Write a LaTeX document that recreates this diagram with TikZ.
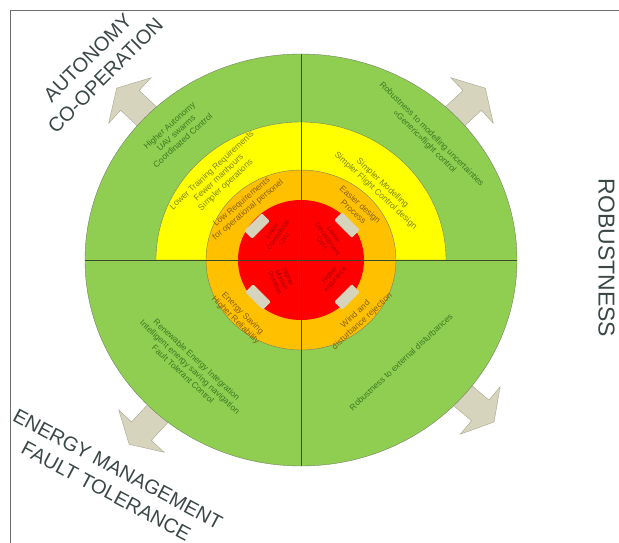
\documentclass[tikz,border=0pt]{standalone}
\usepackage{fontspec}
\setmainfont{Liberation Sans}
\definecolor{ringgreen}{HTML}{8FCE50}
\definecolor{ringyellow}{HTML}{FFFF00}
\definecolor{ringorange}{HTML}{FFC000}
\definecolor{ringred}{HTML}{FF0000}
\definecolor{beige}{HTML}{D6D4BC}
\definecolor{beigeedge}{HTML}{A8A690}
\definecolor{txtgreen}{HTML}{3B7A22}
\definecolor{txtyellow}{HTML}{7E8412}
\definecolor{txtorange}{HTML}{86620A}
\definecolor{txtred}{HTML}{A00000}
\definecolor{bigtxt}{HTML}{3C4848}
\definecolor{divline}{HTML}{3A4A2A}
\definecolor{framegray}{HTML}{6B6B6B}
\tikzset{
  lbl/.style={align=center,inner sep=0pt,font=\fontsize{8.5}{10}\selectfont},
  glbl/.style={lbl,text=txtgreen},
  ylbl/.style={lbl,text=txtyellow},
  olbl/.style={lbl,text=txtorange},
  rlbl/.style={align=center,inner sep=0pt,text=txtred,font=\fontsize{6.5}{7.3}\selectfont},
  biglbl/.style={align=center,inner sep=0pt,text=bigtxt,font=\fontsize{20}{25}\selectfont},
  arrowshape/.style={fill=beige,draw=beigeedge,line width=0.4pt},
  tab/.style={fill=beige,rounded corners=1.2pt},
}
\begin{document}
\begin{tikzpicture}[x=1pt,y=1pt]
\useasboundingbox (-301,-282) rectangle (318,260);
\clip (-301,-282) rectangle (318,260);
\fill[white] (-301,-282) rectangle (318,260);
% frame
\draw[framegray,line width=1.2pt] (-290.5,-290) -- (-290.5,249.5) -- (330,249.5);
% arrows behind the disc
\foreach \a in {137,43,227,-40}{
  \begin{scope}[rotate=\a]
    \draw[arrowshape] (170,-13.5) -- (234,-13.5) -- (234,-31) -- (252,0)
      -- (234,31) -- (234,13.5) -- (170,13.5) -- cycle;
  \end{scope}
}
% rings
\fill[ringgreen] (0,0) ellipse [x radius=216, y radius=206];
\draw[divline!70,line width=0.4pt] (0,0) ellipse [x radius=216, y radius=206];
\filldraw[fill=ringyellow,draw=divline!70,line width=0.4pt]
  (-145,0) arc[start angle=180,end angle=0,x radius=145,y radius=138] -- cycle;
\filldraw[fill=ringorange,draw=divline!70,line width=0.4pt] (0,0) ellipse [x radius=95, y radius=90];
\fill[ringred] (0,0) ellipse [x radius=63, y radius=60];
% tabs on the red disc
\node[tab,minimum width=25pt,minimum height=11pt,rotate=45] (tabUL) at (-44,34) {};
\node[tab,minimum width=25pt,minimum height=11pt,rotate=-45] (tabUR) at (46,35) {};
\node[tab,minimum width=25pt,minimum height=11pt,rotate=-45] (tabLL) at (-43,-37) {};
\node[tab,minimum width=25pt,minimum height=11pt,rotate=45] (tabLR) at (46,-37) {};
% dividing lines
\draw[divline,line width=0.6pt] (0,206) -- (0,-206);
\draw[divline,line width=0.6pt] (-216,0) -- (216,0);
% green ring labels
\node[glbl,rotate=42] (g1) at (-125,127) {Higher Autonomy\\UAV swarms\\Coordinated Control};
\node[glbl,rotate=-45] (g2) at (127,122) {Robustness to modelling uncertainties\\«Generic»flight control};
\node[glbl,rotate=-43] (g3) at (-111,-107) {Renewable Energy Integration\\Intelligent energy saving navigation\\Fault Tolerant Control};
\node[glbl,rotate=43] (g4) at (100,-102) {Robustness to external disturbances};
% yellow ring labels
\node[ylbl,rotate=43] (y1) at (-82,82) {Lower Training Requirements\\Fewer manhours\\Simpler operations};
\node[ylbl,rotate=-43] (y2) at (78,73) {Simpler Modelling\\Simpler Flight Control design};
% orange ring labels
\node[olbl,rotate=40] (o1) at (-56,54) {Low Requirements\\for operational personel};
\node[olbl,rotate=-42] (o2) at (56,52) {Easier design\\Process};
\node[olbl,rotate=-45] (o3) at (-62,-57) {Energy Saving\\Higher Reliability};
\node[olbl,rotate=43] (o4) at (58,-58) {Wind and\\disturbance rejection};
% red core labels
\node[rlbl,rotate=55] (r1) at (-23,25) {Lower\\Operational\\Cost};
\node[rlbl,rotate=-55] (r2) at (27,21) {Lower\\Development\\Cost};
\node[rlbl,rotate=-65] (r3) at (-19,-20) {Higher\\Mission\\Duration};
\node[rlbl,rotate=50] (r4) at (31,-17) {Higher\\endurance};
% corner labels
\node[biglbl,rotate=45] (auto) at (-204.5,193.5) {AUTONOMY\\CO-OPERATION};
\node[biglbl,rotate=-90,font=\fontsize{23}{27}\selectfont] (robust) at (305.5,2) {ROBUSTNESS};
\node[biglbl,rotate=-28] (energy) at (-189,-220) {ENERGY MANAGEMENT\\FAULT TOLERANCE};
\end{tikzpicture}
\end{document}
